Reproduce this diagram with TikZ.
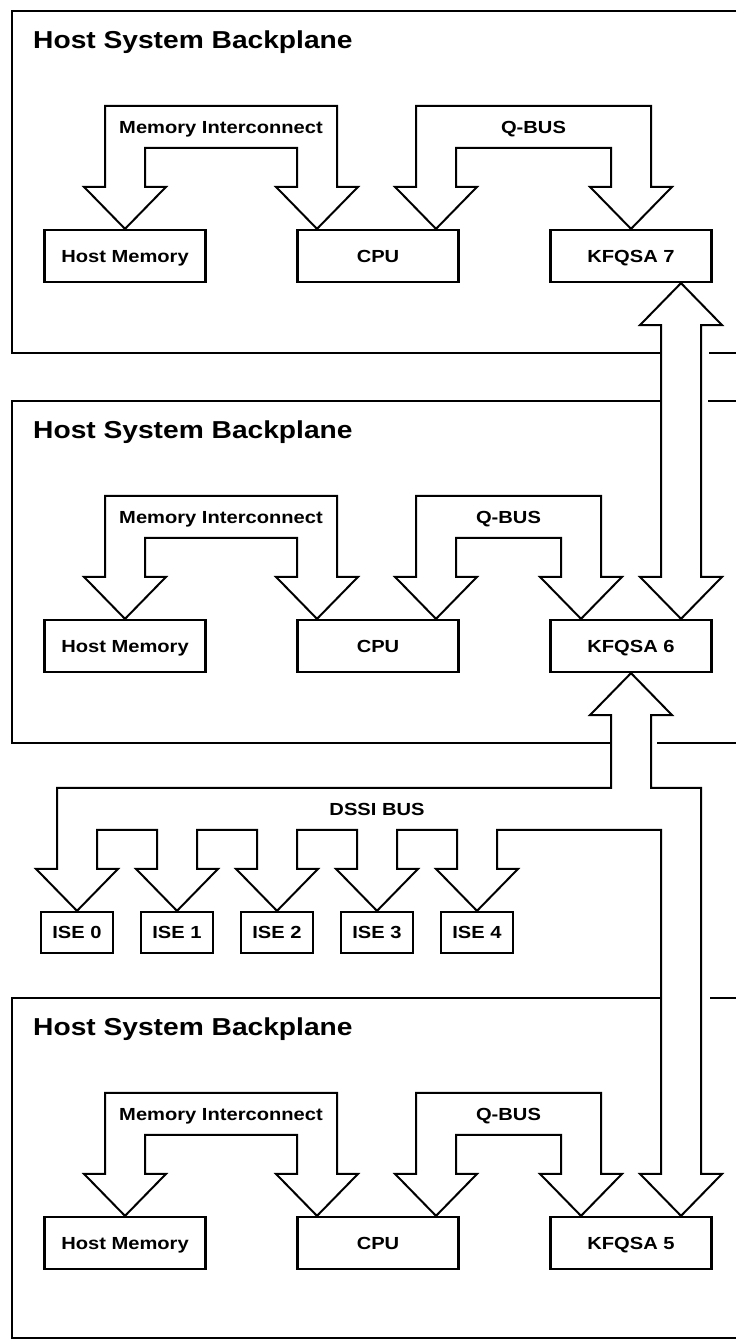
\documentclass[tikz,border=0pt]{standalone}
\usepackage{fontspec}
\setmainfont{Liberation Sans}[FakeStretch=1.15]
\usepackage{tikz}

\tikzset{
  backplane/.style={line width=2.6pt},
  card/.style={draw, line width=2.2pt, minimum width=161pt, minimum height=52pt, inner sep=0pt,
    text height=12.5pt, text depth=0pt, font=\bfseries\fontsize{17.5}{20}\selectfont},
  isecard/.style={card, minimum width=72pt, minimum height=41pt},
  busline/.style={draw, line width=2pt, fill=white},
  buslabel/.style={text height=12.5pt, text depth=0pt, font=\bfseries\fontsize{17.5}{20}\selectfont},
  bptitle/.style={anchor=base west, inner sep=0pt, font=\bfseries\fontsize{24.5}{28}\selectfont}
}

% U shaped bus arrow from tip #1 to tip #2
\newcommand{\busarrow}[3]{%
  \draw[busline] (#1) -- ++(-41,42) -- ++(21,0) -- ++(0,81)
    -- node[buslabel, midway, yshift=-21pt] {#3} ([shift={(20,123)}]#2)
    -- ++(0,-81) -- ++(21,0) -- (#2) -- ++(-41,42) -- ++(21,0) -- ++(0,39)
    -- ([shift={(20,81)}]#1) -- ++(0,-39) -- ++(21,0) -- cycle;}

\begin{document}
\begin{tikzpicture}[x=1pt,y=1pt]
\useasboundingbox (0,0) rectangle (736,1340);
% backplane outlines
\draw[backplane] (736,1329) -| (12,987) -- (661,987);
\draw[backplane] (709,987) -- (736,987);
\draw[backplane] (661,939) -| (12,597) -- (611,597);
\draw[backplane] (708,939) -- (736,939);
\draw[backplane] (657,597) -- (736,597);
\draw[backplane] (661,342) -| (12,2) -- (736,2);
\draw[backplane] (710,342) -- (736,342);
% three host systems
\foreach \n/\y/\k/\q in {1/1084/7/0, 2/694/6/-50, 3/97/5/-50} {
  \node[bptitle] (title\n) at (33,\y+207) {Host System Backplane};
  \node[card] (hm\n) at (125,\y) {Host Memory};
  \node[card] (cpu\n) at (378,\y) {CPU};
  \node[card] (kf\n) at (631,\y) {KFQSA \k};
  \coordinate (mi\n) at ([xshift=-61pt]cpu\n.north);
  \coordinate (qa\n) at ([xshift=58pt]cpu\n.north);
  \coordinate (qb\n) at ([xshift=\q pt]kf\n.north);
  \busarrow{hm\n.north}{mi\n}{Memory Interconnect}
  \busarrow{qa\n}{qb\n}{Q-BUS}
}
% KFQSA 7 to KFQSA 6
\coordinate (up7) at ([xshift=50pt]kf1.south);
\coordinate (dn6) at ([xshift=50pt]kf2.north);
\draw[busline] (up7) -- ++(41,-42) -- ++(-21,0) -- ([shift={(20,42)}]dn6) -- ++(21,0)
  -- (dn6) -- ++(-41,42) -- ++(21,0) -- ([shift={(-20,-42)}]up7) -- ++(-21,0) -- cycle;
% DSSI bus
\foreach \i in {0,...,4} \node[isecard] (ise\i) at (77+100*\i,407.5) {ISE \i};
\coordinate (dsi) at ([yshift=123pt]ise0.north);
\coordinate (dtip) at ([xshift=50pt]kf3.north);
\coordinate (dcorner) at (dtip |- dsi);
\draw[busline] (kf2.south) -- ++(41,-42) -- ++(-21,0) |- ([xshift=20pt]dcorner)
  -- ([shift={(20,42)}]dtip) -- ++(21,0) -- (dtip) -- ++(-41,42) -- ++(21,0)
  \foreach \i in {4,3,...,0} { |- ([shift={(20,81)}]ise\i.north) -- ++(0,-39) -- ++(21,0)
    -- (ise\i.north) -- ++(-41,42) -- ++(21,0) }
  -- ([xshift=-20pt]dsi) -| ([shift={(-20,-42)}]kf2.south) -- ++(-21,0) -- cycle;
\node[buslabel] (dssi) at ([yshift=102pt]ise3.north) {DSSI BUS};
\end{tikzpicture}
\end{document}
